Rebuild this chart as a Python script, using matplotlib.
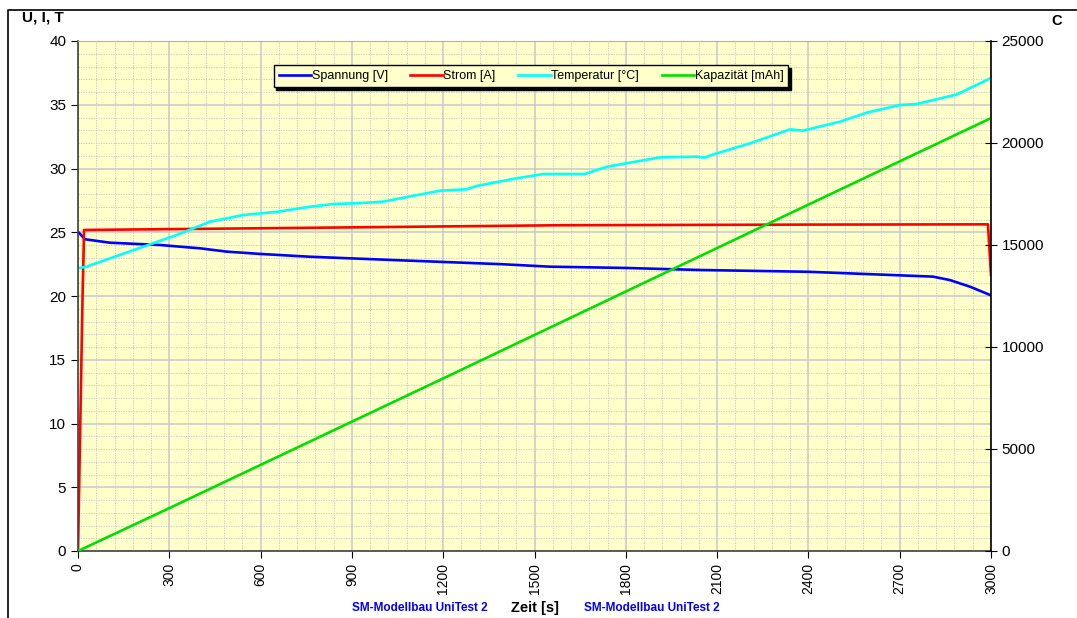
import numpy as np
import matplotlib.pyplot as plt
from matplotlib.lines import Line2D
from matplotlib.ticker import MultipleLocator

plt.rcParams['font.family'] = ['Liberation Sans', 'DejaVu Sans']

# values
t_u = [0, 23, 105, 269, 401, 489, 598, 762, 1058, 1387, 1551, 1800, 2044, 2400, 2809, 2865, 2931, 3000]
spannung = [25.04, 24.45, 24.18, 24.0, 23.74, 23.48, 23.3, 23.08, 22.8, 22.5, 22.3, 22.2, 22.04, 21.9, 21.52, 21.25, 20.73, 20.05]

t_i = [0, 15, 20, 762, 1584, 2400, 2990, 3000]
strom = [0.0, 20.0, 25.18, 25.35, 25.55, 25.6, 25.62, 21.65]

t_t = [0, 28, 105, 215, 324, 434, 543, 653, 762, 839, 916, 1003, 1058, 1190, 1277, 1310, 1441,
       1529, 1666, 1738, 1912, 2034, 2060, 2080, 2208, 2340, 2382, 2504, 2592, 2701, 2756, 2887, 3000]
temperatur = [22.17, 22.3, 22.95, 23.87, 24.78, 25.83, 26.35, 26.6, 27.0, 27.22, 27.27, 27.4, 27.66,
              28.26, 28.37, 28.63, 29.23, 29.57, 29.57, 30.14, 30.87, 30.93, 30.85, 31.05, 31.97, 33.07,
              32.97, 33.67, 34.38, 34.98, 35.06, 35.8, 37.1]

t_c = [0, 300, 600, 900, 1200, 1500, 1800, 2100, 2400, 2700, 3000]
kapazitaet = [0, 2100, 4220, 6340, 8460, 10590, 12720, 14850, 16980, 19100, 21220]

W, H = 1077, 618
fig = plt.figure(figsize=(W / 100, H / 100), dpi=100)
ax = fig.add_axes([78 / W, 1 - 551 / H, 913 / W, 510 / H])
ax.set_facecolor('#FFFFCC')

ax.set_xlim(0, 3000)
ax.set_ylim(0, 40)
ax.xaxis.set_major_locator(MultipleLocator(300))
ax.xaxis.set_minor_locator(MultipleLocator(60))
ax.yaxis.set_major_locator(MultipleLocator(5))
ax.yaxis.set_minor_locator(MultipleLocator(1))
ax.grid(which='major', color='#C8C8C8', linewidth=1.1)
ax.grid(which='minor', color='#C4C4C4', linewidth=0.6, linestyle=(0, (1.5, 1.5)))
ax.set_axisbelow(True)
ax.tick_params(which='minor', length=0)
ax.tick_params(axis='y', which='major', direction='out', length=5, labelsize=11)
ax.tick_params(axis='x', which='major', direction='out', length=5, labelsize=10, labelrotation=90)
for s in ['left', 'bottom']:
    ax.spines[s].set_color('#404040')
    ax.spines[s].set_linewidth(1.2)
ax.spines['top'].set_color('#B0B0B0')
ax.spines['right'].set_visible(False)

l1, = ax.plot(t_u, spannung, color='#0000FF', lw=1.9, label='Spannung [V]')
l2, = ax.plot(t_i, strom, color='#FF0000', lw=1.9, label='Strom [A]')
l3, = ax.plot(t_t, temperatur, color='#00FFFF', lw=1.9, label='Temperatur [°C]')

ax2 = ax.twinx()
ax2.set_ylim(0, 25000)
ax2.yaxis.set_major_locator(MultipleLocator(5000))
ax2.tick_params(axis='y', direction='inout', length=8, labelsize=11)
ax2.spines['right'].set_color('black')
ax2.spines['right'].set_linewidth(1.2)
for s in ['left', 'top', 'bottom']:
    ax2.spines[s].set_visible(False)
l4, = ax2.plot(t_c, kapazitaet, color='#00E000', lw=1.9, label='Kapazität [mAh]')

leg = fig.legend(handles=[l1, l2, l3, l4], ncol=4, loc='center', bbox_to_anchor=(531 / W, 1 - 76 / H),
                 fontsize=9, frameon=True, fancybox=False,
                 shadow={'color': 'black', 'alpha': 1, 'ox': 2, 'oy': -2},
                 handlelength=2.6, handletextpad=0.05, columnspacing=1.8, borderpad=0.4,
                 borderaxespad=0)
leg.get_frame().set_edgecolor('black')
leg.get_frame().set_facecolor('#FFFFCC')
leg.get_frame().set_linewidth(1.0)

fig.text(22 / W, 1 - 18 / H, 'U, I, T', fontsize=11, fontweight='bold', va='center', ha='left')
fig.text(1057 / W, 1 - 21 / H, 'C', fontsize=10.5, fontweight='bold', va='center', ha='center')
fig.text(420 / W, 1 - 608 / H, 'SM-Modellbau UniTest 2', fontsize=8.5, fontweight='bold',
         color='#0000FF', va='center', ha='center')
fig.text(535 / W, 1 - 608 / H, 'Zeit [s]', fontsize=10.5, fontweight='bold', va='center', ha='center')
fig.text(652 / W, 1 - 608 / H, 'SM-Modellbau UniTest 2', fontsize=8.5, fontweight='bold',
         color='#0000FF', va='center', ha='center')

# outer chart frame (top and left edge visible)
fig.add_artist(Line2D([8 / W, 8 / W, 1.0], [0.0, 1 - 10 / H, 1 - 10 / H], color='black', lw=1.2,
                      transform=fig.transFigure))

fig.savefig('out.png', dpi=100)
